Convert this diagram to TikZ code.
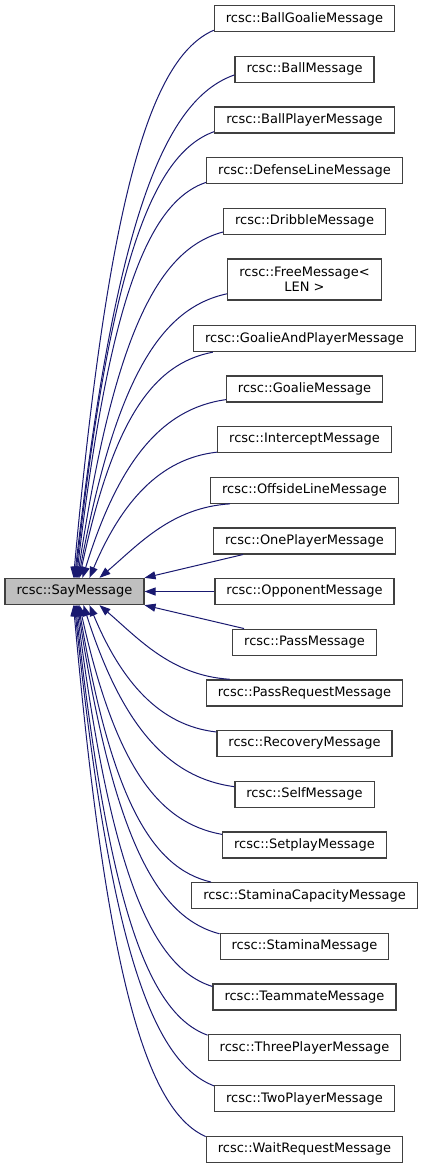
\documentclass[tikz,border=0pt]{standalone}
\usepackage{fontspec}
\setmainfont{DejaVu Sans}
\usetikzlibrary{arrows.meta,calc}
\definecolor{edgecol}{HTML}{191970}
\definecolor{boxline}{HTML}{404040}
\definecolor{basefill}{HTML}{BFBFBF}
\newcommand\edgecurve[4]{\draw[edge] let \p1=(#1), \p2=(#2) in (\p1) .. controls ({\x1+#3*(\x2-\x1)},{\y1+#4*(\y2-\y1)}) and ({\x2-0.45*(\x2-\x1)},{\y2-0.05*(\y2-\y1)}) .. (\p2);}
\begin{document}
\begin{tikzpicture}[x=1pt,y=-1pt,
 cls/.style={draw=boxline, line width=1.3pt, fill=white, inner xsep=11.5pt, inner ysep=0pt, minimum height=26pt, font=\fontsize{13}{15}\selectfont},
 base/.style={cls, fill=basefill},
 edge/.style={draw=edgecol, line width=1pt, {Triangle[length=11pt,width=8pt]}-}
]
\useasboundingbox (0,0) rectangle (423,1168);
\node[base] (say) at (74.5,591.5) {rcsc::SayMessage};
\node[cls] (bgm) at (304.5,18.6) {rcsc::BallGoalieMessage};
\node[cls] (bm) at (304.5,69.3) {rcsc::BallMessage};
\node[cls] (bpm) at (304.5,120) {rcsc::BallPlayerMessage};
\node[cls] (dlm) at (304.5,170.7) {rcsc::DefenseLineMessage};
\node[cls] (drm) at (304.5,221.4) {rcsc::DribbleMessage};
\node[cls, minimum height=41pt, align=center] (fm) at (304.5,279.6) {rcsc::FreeMessage<\\LEN >};
\node[cls] (gapm) at (304.5,338.5) {rcsc::GoalieAndPlayerMessage};
\node[cls] (gm) at (304.5,389) {rcsc::GoalieMessage};
\node[cls] (im) at (304.5,439.5) {rcsc::InterceptMessage};
\node[cls] (olm) at (304.5,490.2) {rcsc::OffsideLineMessage};
\node[cls] (opm) at (304.5,540.9) {rcsc::OnePlayerMessage};
\node[cls] (oppm) at (304.5,591.5) {rcsc::OpponentMessage};
\node[cls] (pm) at (304.5,642.2) {rcsc::PassMessage};
\node[cls] (prm) at (304.5,692.9) {rcsc::PassRequestMessage};
\node[cls] (rm) at (304.5,743.6) {rcsc::RecoveryMessage};
\node[cls] (sm) at (304.5,794.3) {rcsc::SelfMessage};
\node[cls] (spm) at (304.5,845) {rcsc::SetplayMessage};
\node[cls] (scm) at (304.5,895.7) {rcsc::StaminaCapacityMessage};
\node[cls] (stm) at (304.5,946.4) {rcsc::StaminaMessage};
\node[cls] (tmm) at (304.5,997.1) {rcsc::TeammateMessage};
\node[cls] (thpm) at (304.5,1047.8) {rcsc::ThreePlayerMessage};
\node[cls] (twpm) at (304.5,1098.5) {rcsc::TwoPlayerMessage};
\node[cls] (wrm) at (304.5,1149.2) {rcsc::WaitRequestMessage};
% upper edges
\edgecurve{[xshift=69pt]say.north west}{[yshift=2pt]bgm.south west}{0.25}{0.7}
\edgecurve{[xshift=70pt]say.north west}{[yshift=8pt]bm.south west}{0.25}{0.7}
\edgecurve{[xshift=71pt]say.north west}{[yshift=2pt]bpm.south west}{0.25}{0.7}
\edgecurve{[xshift=72pt]say.north west}{[yshift=2pt]dlm.south west}{0.25}{0.7}
\edgecurve{[xshift=73pt]say.north west}{[yshift=3pt]drm.south west}{0.25}{0.7}
\edgecurve{[xshift=74pt]say.north west}{[yshift=7pt]fm.south west}{0.25}{0.7}
\edgecurve{[xshift=75pt]say.north west}{[xshift=20pt]gapm.south west}{0.25}{0.7}
\edgecurve{[xshift=78pt]say.north west}{[yshift=3pt]gm.south west}{0.25}{0.65}
\edgecurve{[xshift=85pt]say.north west}{[yshift=1pt]im.south west}{0.25}{0.6}
\edgecurve{[xshift=95pt]say.north west}{[xshift=20pt]olm.south west}{0.3}{0.45}
% near edges
\draw[edge] (say.north east) -- ([xshift=30pt]opm.south west);
\draw[edge] (say.east) -- (oppm.west);
\draw[edge] (say.south east) -- ([xshift=12pt]pm.north west);
% lower edges
\edgecurve{[xshift=95pt]say.south west}{[xshift=24pt]prm.north west}{0.3}{0.45}
\edgecurve{[xshift=85pt]say.south west}{[yshift=-2pt]rm.north west}{0.25}{0.6}
\edgecurve{[xshift=79pt]say.south west}{[yshift=-6pt]sm.north west}{0.25}{0.65}
\edgecurve{[xshift=75pt]say.south west}{[yshift=-3pt]spm.north west}{0.25}{0.7}
\edgecurve{[xshift=74pt]say.south west}{[xshift=20pt]scm.north west}{0.25}{0.7}
\edgecurve{[xshift=73pt]say.south west}{[yshift=-1pt]stm.north west}{0.25}{0.7}
\edgecurve{[xshift=72pt]say.south west}{[yshift=-3pt]tmm.north west}{0.25}{0.7}
\edgecurve{[xshift=71pt]say.south west}{[yshift=-1pt]thpm.north west}{0.25}{0.7}
\edgecurve{[xshift=70pt]say.south west}{[yshift=-1pt]twpm.north west}{0.25}{0.7}
\edgecurve{[xshift=69pt]say.south west}{[yshift=-1pt]wrm.north west}{0.25}{0.7}
\end{tikzpicture}
\end{document}
